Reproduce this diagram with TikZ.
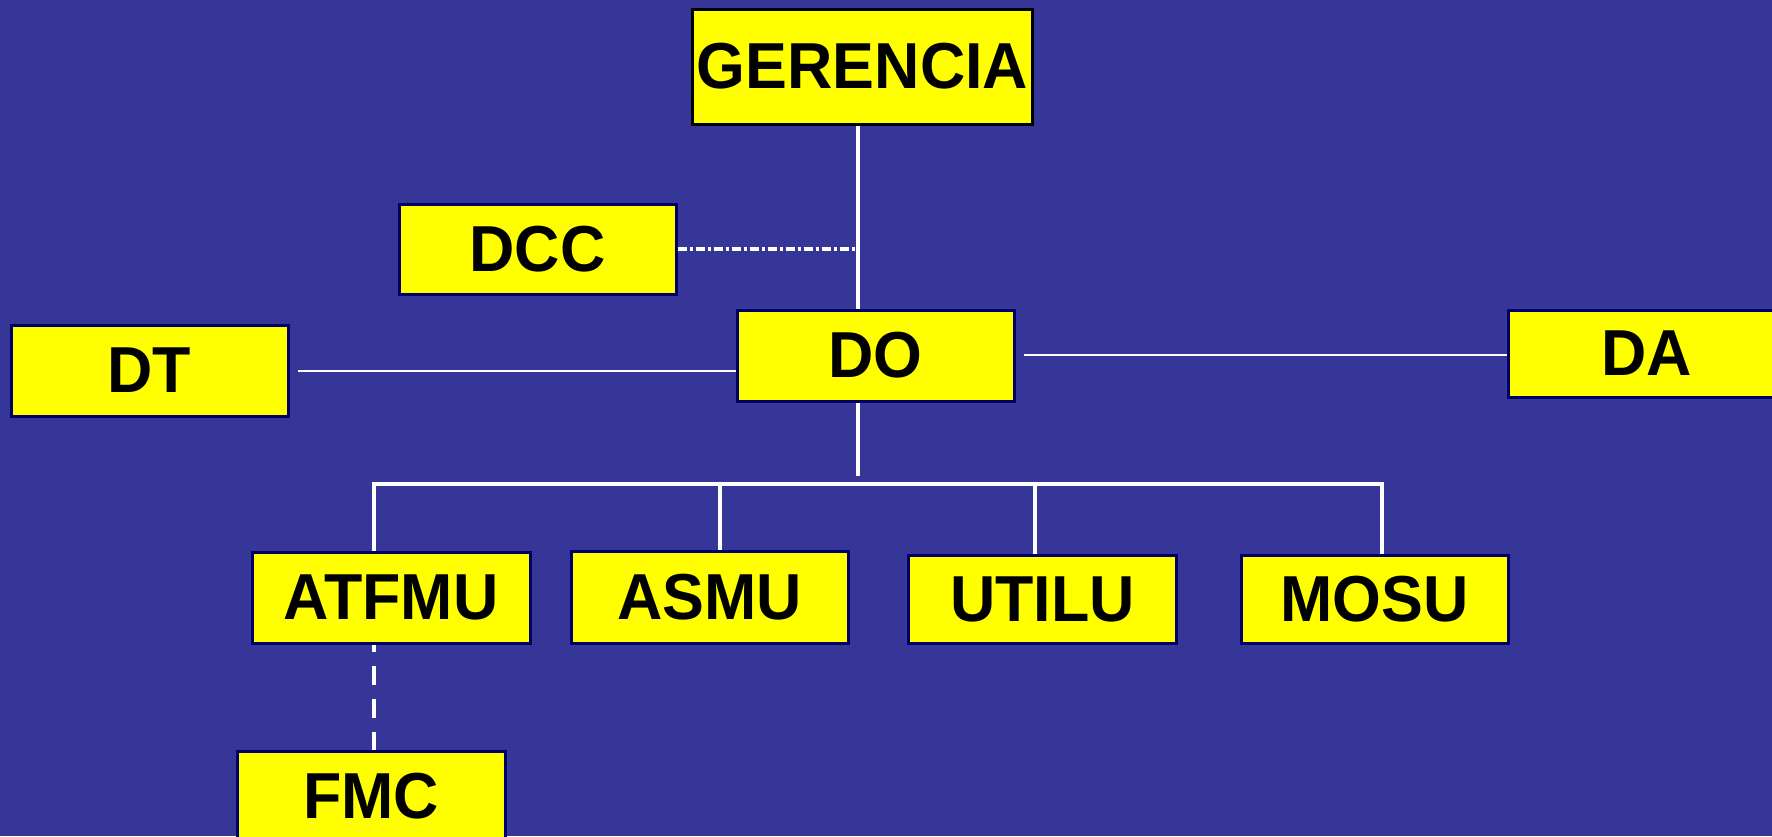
\documentclass[tikz,border=0pt]{standalone}
\usepackage{fontspec}
\setmainfont{Liberation Sans}
\newfontfamily\boxfont[FakeStretch=0.965]{Liberation Sans}
\definecolor{bg}{RGB}{54,54,153}
\definecolor{boxyellow}{RGB}{255,255,0}
\definecolor{navyedge}{RGB}{0,0,102}
\tikzset{
  unitbox/.style={draw=navyedge, line width=3pt, fill=boxyellow, inner sep=0pt,
    font=\boxfont\bfseries\fontsize{65}{70}\selectfont, text=black, align=center},
  link/.style={draw=white, line width=3.5pt},
  thinlink/.style={draw=white, line width=2.5pt},
  dotlink/.style={draw=white, line width=4pt, dash pattern=on 9pt off 3pt on 3pt off 3pt},
  dashlink/.style={draw=white, line width=3.5pt, dash pattern=on 19pt off 14pt, dash phase=12pt}
}
\begin{document}
\begin{tikzpicture}[x=1pt,y=-1pt]
\fill[bg] (0,0) rectangle (1772,836);
\useasboundingbox (0,0) rectangle (1772,836);

\node[unitbox, draw=black, minimum width=340pt, minimum height=115pt] (gerencia) at (862.5,66.5) {\raisebox{-2pt}{GERENCIA}};
\node[unitbox, minimum width=277pt, minimum height=90pt] (dcc) at (537.5,249) {\raisebox{-1pt}{DCC}};
\node[unitbox, minimum width=277pt, minimum height=91pt] (do) at (875.5,355.5) {\raisebox{-1pt}{DO}};
\node[unitbox, minimum width=277pt, minimum height=91pt] (dt) at (149.5,370.5) {\raisebox{-1pt}{DT}};
\node[unitbox, minimum width=277pt, minimum height=87pt] (da) at (1646.5,353.5) {\raisebox{-1pt}{DA}};
\node[unitbox, minimum width=278pt, minimum height=91pt] (atfmu) at (391,597.5) {\raisebox{-1pt}{ATFMU}};
\node[unitbox, minimum width=277pt, minimum height=92pt] (asmu) at (709.5,597) {\raisebox{-1pt}{ASMU}};
\node[unitbox, minimum width=268pt, minimum height=88pt] (utilu) at (1042.5,599) {\raisebox{-1pt}{UTILU}};
\node[unitbox, minimum width=267pt, minimum height=88pt] (mosu) at (1374.5,599) {\raisebox{-1pt}{MOSU}};
\node[unitbox, minimum width=268pt, minimum height=91pt] (fmc) at (371,796.5) {\raisebox{-1pt}{FMC}};

\coordinate (vx) at (858,0);
\coordinate (dtend) at (298,371);
\coordinate (daend) at (1024,355);
\coordinate (dodown) at (858,476);
\coordinate (busl) at (374,484);
\coordinate (busr) at (1382,484);
\coordinate (drop2) at (720,484);
\coordinate (drop3) at (1035,484);

\draw[link] (gerencia.south -| vx) -- (do.north -| vx);
\draw[dotlink] (dcc.east) -- (dcc.east -| vx);
\draw[thinlink] (dtend) -- (dtend -| do.west);
\draw[thinlink] (daend) -- (daend -| da.west);
\draw[link] (do.south -| vx) -- (dodown);
\draw[link] (atfmu.north -| busl) -- (busl) -- (busr) -- (mosu.north -| busr);
\draw[link] (drop2) -- (asmu.north -| drop2);
\draw[link] (drop3) -- (utilu.north -| drop3);
\draw[dashlink] (atfmu.south -| busl) -- (fmc.north -| busl);
\end{tikzpicture}
\end{document}
